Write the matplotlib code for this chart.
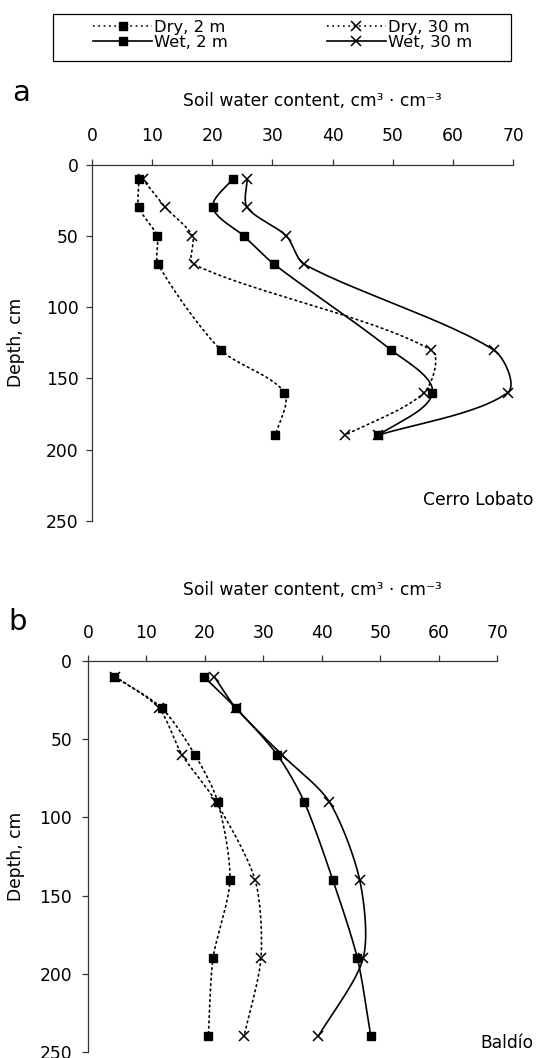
import numpy as np
import matplotlib
matplotlib.use("Agg")
import matplotlib.pyplot as plt
from matplotlib.lines import Line2D
from matplotlib.patches import Rectangle

plt.rcParams['font.family'] = ['DejaVu Sans']

# ---------------- data ----------------
depth_a = [10, 30, 50, 70, 130, 160, 190]
dry2_a = [7.8, 7.8, 10.8, 11.0, 21.4, 32.0, 30.5]
dry30_a = [8.4, 12.2, 16.7, 16.9, 56.4, 55.2, 42.0]
wet2_a = [23.4, 20.1, 25.2, 30.3, 49.7, 56.6, 47.6]
wet30_a = [25.8, 25.8, 32.3, 35.3, 66.8, 69.1, 47.5]

depth_b = [10, 30, 60, 90, 140, 190, 240]
dry2_b = [4.5, 12.6, 18.3, 22.2, 24.3, 21.4, 20.6]
dry30_b = [4.7, 12.1, 16.1, 21.9, 28.6, 29.6, 26.7]
wet2_b = [19.8, 25.3, 32.4, 37.0, 41.9, 46.1, 48.4]
wet30_b = [21.6, 25.3, 33.2, 41.3, 46.5, 47.1, 39.4]

series_labels = ["Dry, 2 m", "Wet, 2 m", "Dry, 30 m", "Wet, 30 m"]
x_ticks = [0, 10, 20, 30, 40, 50, 60, 70]
y_ticks = [0, 50, 100, 150, 200, 250]
site_a = "Cerro Lobato"
site_b = "Baldío"
xlabel = "Soil water content, cm³ · cm⁻³"
ylabel = "Depth, cm"

W, H = 536, 1058
fig = plt.figure(figsize=(W / 100, H / 100), dpi=100)

DOT = (0, (1, 2.2))


def smooth(x, y, sx, sy, n=30, k=0.27):
    """Excel-like smoothed line: Bezier segments, tangent length scaled by segment length."""
    P = np.column_stack([np.asarray(x, float) * sx, np.asarray(y, float) * sy])
    m = len(P)
    T = []
    for i in range(m):
        a = P[i - 1] if i > 0 else P[i]
        b = P[i + 1] if i < m - 1 else P[i]
        d = b - a
        nrm = np.hypot(*d)
        T.append(d / nrm if nrm > 0 else d)
    out = []
    for i in range(m - 1):
        p1, p2 = P[i], P[i + 1]
        L = np.hypot(*(p2 - p1))
        c1 = p1 + T[i] * L * k
        c2 = p2 - T[i + 1] * L * k
        t = np.linspace(0, 1, n)[:, None]
        seg = ((1 - t) ** 3) * p1 + 3 * ((1 - t) ** 2) * t * c1 + 3 * (1 - t) * t ** 2 * c2 + t ** 3 * p2
        out.append(seg if i == 0 else seg[1:])
    out = np.vstack(out)
    return out[:, 0] / sx, out[:, 1] / sy


def make_panel(rect, depth, series, site, site_xy, letter_xy, letter, title_xy, ypad):
    ax = fig.add_axes(rect)
    ax.set_xlim(0, 70)
    ax.set_ylim(250, 0)
    axw = rect[2] * W
    axh = rect[3] * H
    sx, sy = axw / 70.0, axh / 250.0
    styles = [
        dict(ls=DOT, marker='s'),
        dict(ls='-', marker='s'),
        dict(ls=DOT, marker='x'),
        dict(ls='-', marker='x'),
    ]
    for vals, st in zip(series, styles):
        xs, ys = smooth(vals, depth, sx, sy)
        ax.plot(xs, ys, color='black', lw=1.2, ls=st['ls'], solid_capstyle='round',
                dash_capstyle='round', clip_on=False)
        if st['marker'] == 's':
            ax.plot(vals, depth, ls='none', marker='s', ms=5.5, color='black', mec='black',
                    clip_on=False)
        else:
            ax.plot(vals, depth, ls='none', marker='x', ms=7, mew=1.1, color='black',
                    clip_on=False)
    ax.xaxis.tick_top()
    ax.set_xticks(x_ticks)
    ax.set_yticks(y_ticks)
    for s in ['right', 'bottom']:
        ax.spines[s].set_visible(False)
    for s in ['left', 'top']:
        ax.spines[s].set_linewidth(0.9)
        ax.spines[s].set_color('#333333')
    ax.tick_params(axis='x', direction='out', length=4, width=0.9, pad=10, labelsize=12.3,
                   colors='#333333', labelcolor='black')
    ax.tick_params(axis='y', direction='out', length=4.5, width=0.9, pad=ypad, labelsize=12.3,
                   colors='#333333', labelcolor='black')
    ax.set_ylabel(ylabel, fontsize=12.3)
    ax.yaxis.set_label_coords((25 - rect[0] * W) / axw, 0.5)
    fig.text(title_xy[0] / W, 1 - title_xy[1] / H, xlabel, ha='center', va='center', fontsize=12.3)
    fig.text(letter_xy[0] / W, 1 - letter_xy[1] / H, letter, ha='center', va='center', fontsize=21)
    fig.text(site_xy[0] / W, 1 - site_xy[1] / H, site, ha='right', va='center', fontsize=12.3)
    return ax


rect_a = [92 / W, 1 - 521 / H, 421 / W, (521 - 164.5) / H]
rect_b = [88 / W, 1 - 1052 / H, 409 / W, (1052 - 661) / H]

make_panel(rect_a, depth_a, [dry2_a, wet2_a, dry30_a, wet30_a], site_a, (533, 500), (21, 93), "a",
           (312, 101), 5)
make_panel(rect_b, depth_b, [dry2_b, wet2_b, dry30_b, wet30_b], site_b, (533, 1043), (18, 622), "b",
           (312, 590), 7)

# legend frame
fig.patches.append(Rectangle((53 / W, 1 - 61 / H), (511 - 53) / W, 47 / H,
                             transform=fig.transFigure, fill=False, edgecolor='black', lw=0.9))

handles = [
    Line2D([], [], color='black', lw=1.2, ls=DOT, marker='s', ms=5.5),
    Line2D([], [], color='black', lw=1.2, ls='-', marker='s', ms=5.5),
    Line2D([], [], color='black', lw=1.2, ls=DOT, marker='x', ms=7, mew=1.1),
    Line2D([], [], color='black', lw=1.2, ls='-', marker='x', ms=7, mew=1.1),
]
leg = fig.legend(handles, series_labels, ncol=2, loc='upper left',
                 bbox_to_anchor=(93 / W, 1 - 20 / H),
                 fontsize=11.8, frameon=False,
                 handlelength=3.6, handletextpad=0.15, labelspacing=0.0, borderpad=0,
                 columnspacing=6.0, borderaxespad=0)

fig.savefig("out.png", dpi=100)
